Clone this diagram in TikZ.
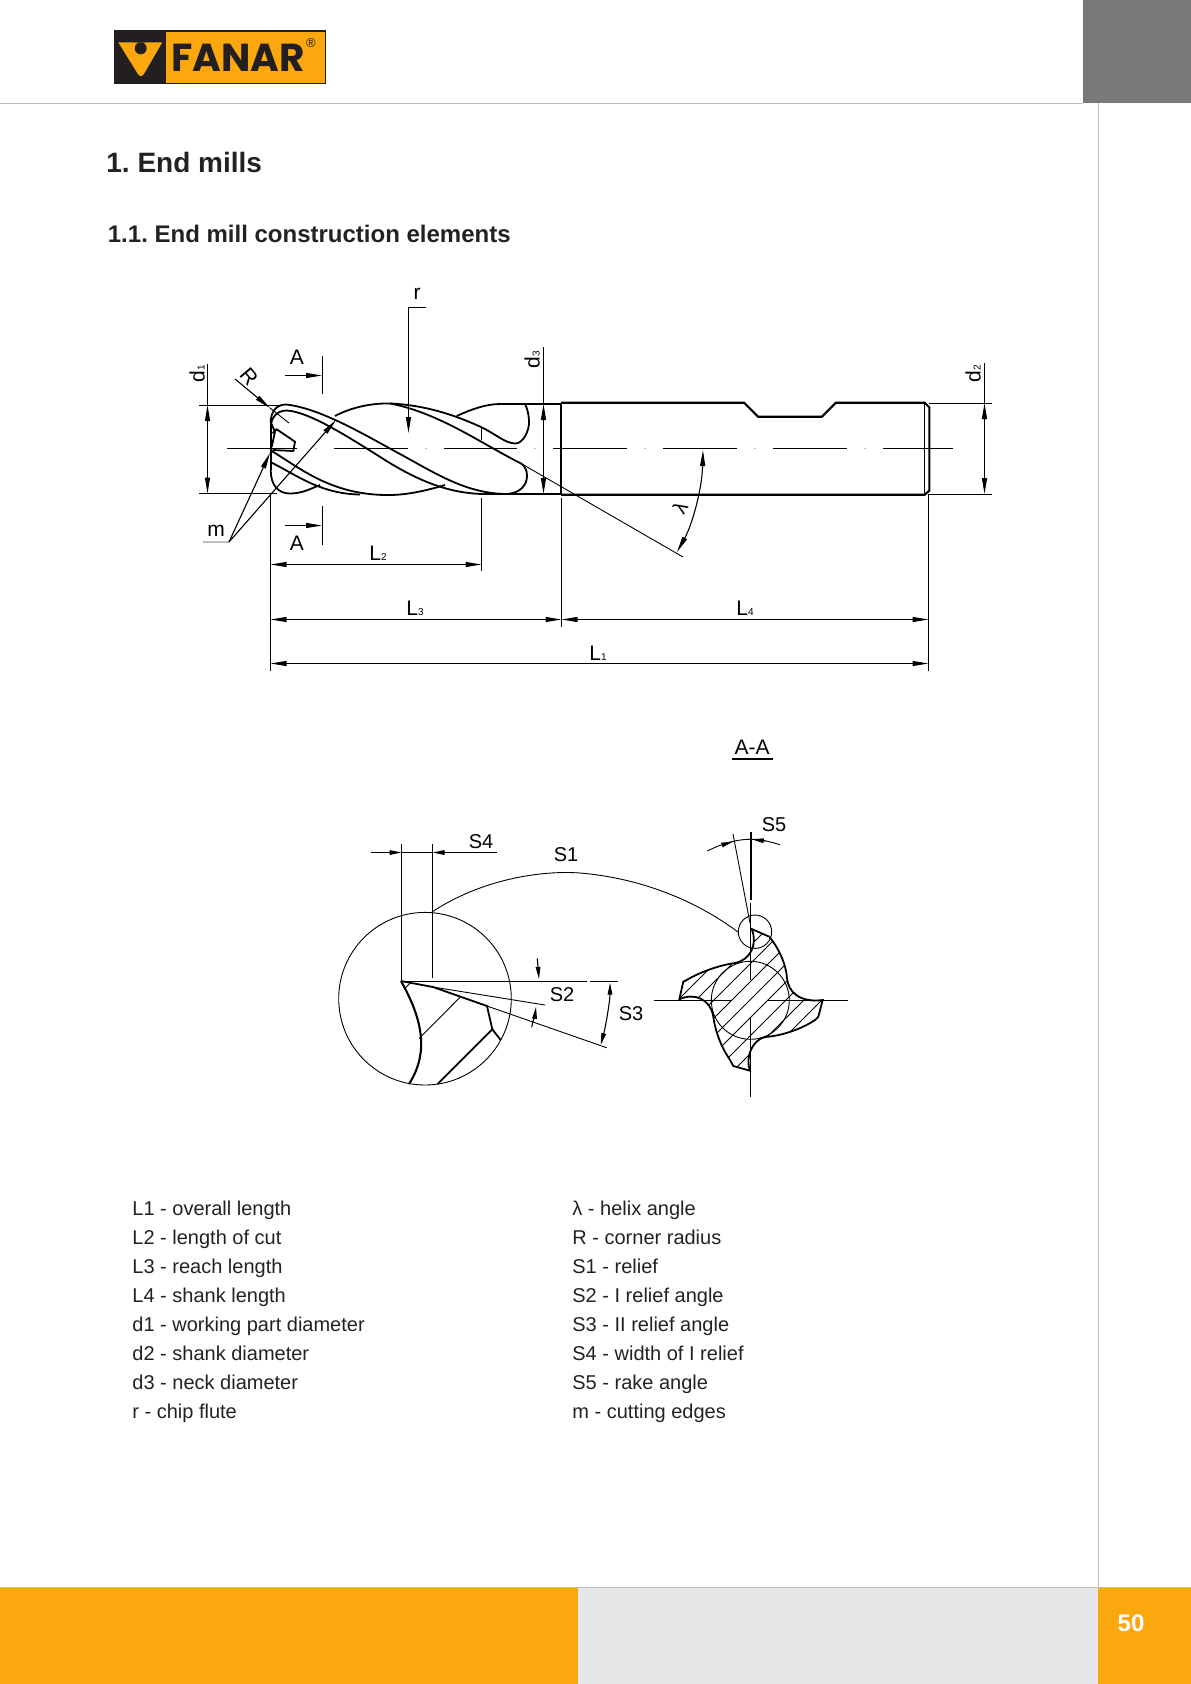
\documentclass[tikz,border=0pt]{standalone}
\usepackage{fontspec}
\setmainfont{Liberation Sans}
\newfontfamily\fanarfont{Poppins}
\usetikzlibrary{arrows.meta}
\frenchspacing
\definecolor{fanarorange}{HTML}{FBA80F}
\definecolor{fanardark}{HTML}{231F20}
\definecolor{headgray}{HTML}{7A7878}
\definecolor{footgray}{HTML}{E6E7E8}
\definecolor{rulegray}{HTML}{BDBDBD}
\definecolor{textgray}{HTML}{222222}
\tikzset{
	thinline/.style={line width=0.45bp},
	dimline/.style={line width=0.55bp},
	thickline/.style={line width=0.9bp},
	shankline/.style={line width=1.05bp},
	tipboth/.style={{Triangle[length=8bp,width=2.5bp]}-{Triangle[length=8bp,width=2.5bp]}},
	tipend/.style={-{Triangle[length=8bp,width=2.5bp]}},
	tipsmall/.style={-{Triangle[length=6bp,width=2.3bp]}},
	tipsmallboth/.style={{Triangle[length=6bp,width=2.3bp]}-{Triangle[length=6bp,width=2.3bp]}},
	lab/.style={font=\fontsize{10bp}{12bp}\selectfont,inner sep=0pt},
	biglab/.style={font=\fontsize{10.5bp}{12bp}\selectfont,inner sep=0pt},
	listitem/.style={font=\fontsize{10bp}{12bp}\selectfont,inner sep=0pt,anchor=base west,text=textgray},
}
\def\subdigit#1{{\fontsize{5bp}{6bp}\selectfont #1}}
\def\profilepath{(751.7,929) -- (769.3,936.7)
	.. controls (780,950) and (786,965) .. (787,978) .. controls (788,992) and (800,1003) .. (822.7,1000)
	-- (818.3,1016.7) -- (815,1020)
	.. controls (800,1030) and (780,1036) .. (765,1037) .. controls (752,1040) and (745,1058) .. (750,1070.7)
	-- (733.3,1066) -- (730,1060)
	.. controls (720,1045) and (715,1030) .. (713,1015) .. controls (710,1000) and (695,992) .. (679.3,999.3)
	-- (683.3,981.7) -- (686.7,980)
	.. controls (700,972) and (720,965) .. (735,963) .. controls (750,960) and (758,945) .. (751.7,929)
	-- cycle}

\begin{document}
\begin{tikzpicture}[x=0.5bp,y=-0.5bp]
	\useasboundingbox (0,0) rectangle (1191,1684);
	
	%%%%% PAGE %%%%%
	\fill[headgray] (1083,0) rectangle (1191,103);
	\draw[rulegray,line width=0.45bp] (0,103) -- (1083,103);
	\draw[rulegray,line width=0.45bp] (1098,103) -- (1098,1587);
	\fill[fanarorange] (0,1587) rectangle (578,1684);
	\fill[footgray] (578,1587) rectangle (1098,1684);
	\fill[fanarorange] (1098,1587) rectangle (1191,1684);
	\draw[rulegray,line width=0.4bp] (0,1587) -- (1191,1587);
	\node[font=\fontsize{12bp}{14bp}\selectfont\bfseries,text=white,inner sep=0pt] (pagenum) at (1131,1623) {50};
	
	%%%%% LOGO %%%%%
	\fill[fanardark] (114,30) rectangle (326,83.5);
	\fill[fanarorange] (166,32) rectangle (325,82.7);
	\fill[fanarorange] (118.3,42.3) -- (162.3,42.3) [rounded corners=3pt] -- (141,79) [sharp corners] -- cycle;
	\fill[fanardark] (140.7,42.3) ++(-6,0) arc (180:360:6) -- cycle;
	\fill[fanardark] (140.7,48.3) circle (6);
	\node[font=\fanarfont\bfseries\fontsize{19.5bp}{22bp}\selectfont,text=fanardark,inner sep=0pt] (logoname) at (238,57.5) {FANAR};
	\node[font=\fontsize{6.5bp}{7bp}\selectfont,text=fanardark,inner sep=0pt] (logoreg) at (311,43.5) {®};
	
	%%%%% TITLES %%%%%
	\node[font=\fontsize{14bp}{16bp}\selectfont\bfseries,text=textgray,inner sep=0pt,anchor=west] (title) at (106,162) {1. End mills};
	\node[font=\fontsize{12bp}{14bp}\selectfont\bfseries,text=textgray,inner sep=0pt,anchor=west] (subtitle) at (107.5,234) {1.1. End mill construction elements};
	
	%%%%% MILL %%%%%
	\foreach \from/\to in {227/297,334/408,444/517,553/627,663/737,773/847,883/953}
		\draw[dimline] (\from,448.5) -- (\to,448.5);
	\foreach \dotx in {316,426,535,645,755,865}
		\fill[gray] (\dotx,448.5) circle (0.7);
	
	% outer and inner edge of the first flute
	\draw[thickline] (270.7,423) .. controls (270.7,412) and (276,404.5) .. (286,404.5)
		.. controls (320,408) and (365,435) .. (400,454)
		.. controls (435,473) and (465,493) .. (505,494)
		.. controls (520,494) and (527,485) .. (527,476)
		.. controls (527,470) and (525,467) .. (522,464);
	\draw[thickline] (270.7,428) .. controls (271,417) and (277,410.5) .. (287,410.5)
		.. controls (310,412) and (350,438) .. (385,460)
		.. controls (420,482) and (450,493) .. (482,494);
	% second flute
	\draw[thickline] (335,416) .. controls (350,408) and (370,403) .. (390,403.5)
		.. controls (420,409) and (450,424) .. (480,441)
		.. controls (495,449.5) and (510,458) .. (522,464);
	\draw[thickline] (390,403.5) .. controls (425,405) and (455,415) .. (482,427.5)
		.. controls (497,435) and (505,443) .. (515,443.5)
		.. controls (523,444) and (530,430) .. (529,420)
		.. controls (528.5,413) and (527,408) .. (525,404);
	\draw[thickline] (456.7,416) .. controls (470,410) and (485,404) .. (500,404);
	% lower flutes
	\draw[thickline] (271.7,451) .. controls (300,468) and (330,494) .. (385,495)
		.. controls (405,495.5) and (425,491) .. (445,485);
	\draw[thickline] (271.7,462.7) .. controls (295,474) and (320,494) .. (360,494.5);
	\draw[thickline] (270.7,470) .. controls (270.7,485) and (278,493.5) .. (290,493.5)
		.. controls (302,493.5) and (310,489) .. (320,485);
	% tip
	\draw[thickline] (270.7,423) -- (270.7,470);
	\draw[thickline] (271,423) -- (275,431.7) -- (271.7,447);
	\draw[thickline] (272.7,433.3) -- (276.7,429.3) -- (295,441.7) -- (293.3,451) -- (272.7,450);
	\draw[dimline] (481.7,427.3) -- (481.7,440);
	
	\draw[shankline] (500,403.7) -- (560.7,403.7);
	\draw[shankline] (482,494) -- (560.7,494);
	\draw[shankline] (561,402.7) -- (561,494.7);
	\draw[shankline] (561,402.7) -- (744,402.7) -- (758,416.7) -- (822,416.7) -- (836,402.7) -- (924.7,402.7) -- (929.3,407.3) -- (929.3,490.7) -- (924.7,494.7) -- (561,494.7);
	\draw[dimline] (924.7,402.7) -- (924.7,494.7);
	
	%%%%% DIMENSIONS TOP %%%%%
	\draw[dimline] (199,405.5) -- (280,405.5);
	\draw[dimline] (199,493.5) -- (277,493.5);
	\draw[dimline] (207.5,364) -- (207.5,405);
	\draw[dimline,tipboth] (207.5,405) -- (207.5,493.5);
	\node[biglab,rotate=90] (dlabone) at (197,374) {d\subdigit{1}};
	
	\draw[thinline] (270,408) -- (289,423);
	\draw[dimline,tipend] (235,379) -- (270,408);
	\node[biglab,rotate=-50] (radlab) at (249,377) {R};
	
	\draw[dimline,tipend] (285,375.5) -- (322,375.5);
	\draw[dimline] (322.5,356) -- (322.5,394);
	\node[biglab] (secupper) at (297,357) {A};
	\draw[dimline,tipend] (285,525.5) -- (322,525.5);
	\draw[dimline] (322.5,506) -- (322.5,545);
	\node[biglab] (seclower) at (297,543) {A};
	
	\draw[dimline,tipend] (426,307.5) -- (408.5,307.5) -- (408.5,433);
	\node[biglab] (flutelab) at (417,294) {r};
	
	\draw[dimline] (543.5,347) -- (543.5,404);
	\draw[dimline,tipboth] (543.5,404) -- (543.5,494);
	\node[biglab,rotate=90] (dlabthree) at (532,360) {d\subdigit{3}};
	
	\draw[dimline] (929,403.5) -- (992,403.5);
	\draw[dimline] (929,494.5) -- (992,494.5);
	\draw[dimline] (984.5,363) -- (984.5,403);
	\draw[dimline,tipboth] (984.5,403) -- (984.5,494);
	\node[biglab,rotate=90] (dlabtwo) at (973,374) {d\subdigit{2}};
	
	\draw[rulegray,line width=0.7bp] (203,542) -- (229,542);
	\draw[dimline,tipend] (229,542) -- (270,453);
	\draw[dimline,tipend] (229,542) -- (336,420);
	\node[biglab] (edgelab) at (216,531) {m};
	
	\draw[thinline] (522,464) -- (683,557);
	\draw[dimline,tipboth] (703,450) .. controls (702,490) and (692,525) .. (677,552);
	\node[lab,rotate=60] (helixlab) at (680,508) {λ};
	
	%%%%% DIMENSIONS BOTTOM %%%%%
	\draw[dimline] (270.5,494) -- (270.5,671);
	\draw[dimline] (481.5,498) -- (481.5,571);
	\draw[dimline] (561.5,498) -- (561.5,627);
	\draw[dimline] (928.5,494) -- (928.5,671);
	\draw[dimline,tipboth] (270.5,564.5) -- (481.5,564.5);
	\draw[dimline,tipboth] (270.5,619.5) -- (561.5,619.5);
	\draw[dimline,tipboth] (561.5,619.5) -- (928.5,619.5);
	\draw[dimline,tipboth] (270.5,663.5) -- (928.5,663.5);
	\node[biglab] (ltwo) at (378,553) {L\subdigit{2}};
	\node[biglab] (lthree) at (415,608) {L\subdigit{3}};
	\node[biglab] (lfour) at (745,608) {L\subdigit{4}};
	\node[biglab] (lone) at (598,653) {L\subdigit{1}};
	
	%%%%% DETAIL %%%%%
	\draw[thinline] (425,998.7) circle (86.3);
	\draw[dimline] (401.5,981.5) -- (587,981.5);
	\draw[dimline] (590,981.5) -- (618,981.5);
	\draw[dimline] (401.5,844) -- (401.5,981);
	\draw[dimline] (432.5,844) -- (432.5,978);
	\draw[dimline,tipsmall] (371,852.5) -- (401.5,852.5);
	\draw[dimline] (401.5,852.5) -- (432.5,852.5);
	\draw[dimline,tipsmall] (497,852.5) -- (432.5,852.5);
	\node[lab] (sfourlab) at (481,842) {S4};
	\node[lab] (sonelab) at (566,855) {S1};
	\draw[thinline] (432,912) .. controls (480,880) and (540,870) .. (580,873) .. controls (640,878) and (695,900) .. (738,932);
	
	\draw[thickline] (401,981) -- (433,987) -- (487,1006) -- (492.3,1029.3) -- (500.7,1040);
	\draw[shankline] (401,981) .. controls (420,1015) and (431,1050) .. (409,1084);
	\draw[thickline] (492.3,1029.3) -- (437.7,1084);
	\draw[thinline] (460,997.3) -- (419.3,1038.3);
	\draw[thinline] (410,983.3) -- (405,988.3);
	\draw[thinline] (433,987) -- (545,1005);
	\draw[thinline] (487,1006) -- (606.7,1047.7);
	\draw[dimline,tipsmall] (537.3,958.3) -- (539,979);
	\draw[dimline,tipsmall] (531.7,1027.3) .. controls (533,1020) and (535,1015) .. (536,1006.7);
	\node[lab] (stwolab) at (562,995) {S2};
	\draw[dimline,tipsmallboth] (610,982.7) .. controls (610,1000) and (606,1025) .. (600.7,1045);
	\node[lab] (sthreelab) at (631,1014) {S3};
	
	%%%%% SECTION %%%%%
	\node[biglab] (seclab) at (752,747) {A-A};
	\draw[line width=1.2bp] (732,759) -- (773,759);
	
	\begin{scope}
		\clip \profilepath;
		\foreach \hatchc in {1642,1660,...,1900}
			\draw[thinline] (\hatchc-1100,1100) -- (\hatchc-900,900);
	\end{scope}
	\draw[thickline] \profilepath;
	\draw[thinline] (750.3,1000.3) circle (39);
	\draw[thinline] (755,931.7) circle (16.7);
	\draw[dimline] (654,1000.5) -- (732,1000.5);
	\draw[dimline] (768,1000.5) -- (848,1000.5);
	\draw[dimline] (751,832) -- (751,900);
	\draw[dimline] (750.5,903) -- (750.5,980);
	\draw[dimline] (750.5,1018) -- (750.5,1097);
	\draw[thinline] (733,834) -- (750,923);
	\draw[thinline] (707.3,851) .. controls (725,842) and (740,839) .. (751.7,839.3) .. controls (762,839.5) and (771,842) .. (780,844.7);
	\draw[thinline,tipsmall] (722,845) -- (733.3,841.5);
	\draw[thinline,tipsmall] (766,841) -- (751.7,839.3);
	\node[lab] (sfivelab) at (774,825) {S5};
	
	%%%%% LEGEND %%%%%
	\foreach \i/\legtext in {0/L1 - overall length,1/L2 - length of cut,2/L3 - reach length,3/L4 - shank length,4/d1 - working part diameter,5/d2 - shank diameter,6/d3 - neck diameter,7/r - chip flute}
		\node[listitem] (legleft\i) at (132,1215.5+29*\i) {\legtext};
	\foreach \i/\legtext in {0/λ - helix angle,1/R - corner radius,2/S1 - relief,3/S2 - I relief angle,4/S3 - II relief angle,5/S4 - width of I relief,6/S5 - rake angle,7/m - cutting edges}
		\node[listitem] (legright\i) at (572,1215.5+29*\i) {\legtext};
\end{tikzpicture}
\end{document}
